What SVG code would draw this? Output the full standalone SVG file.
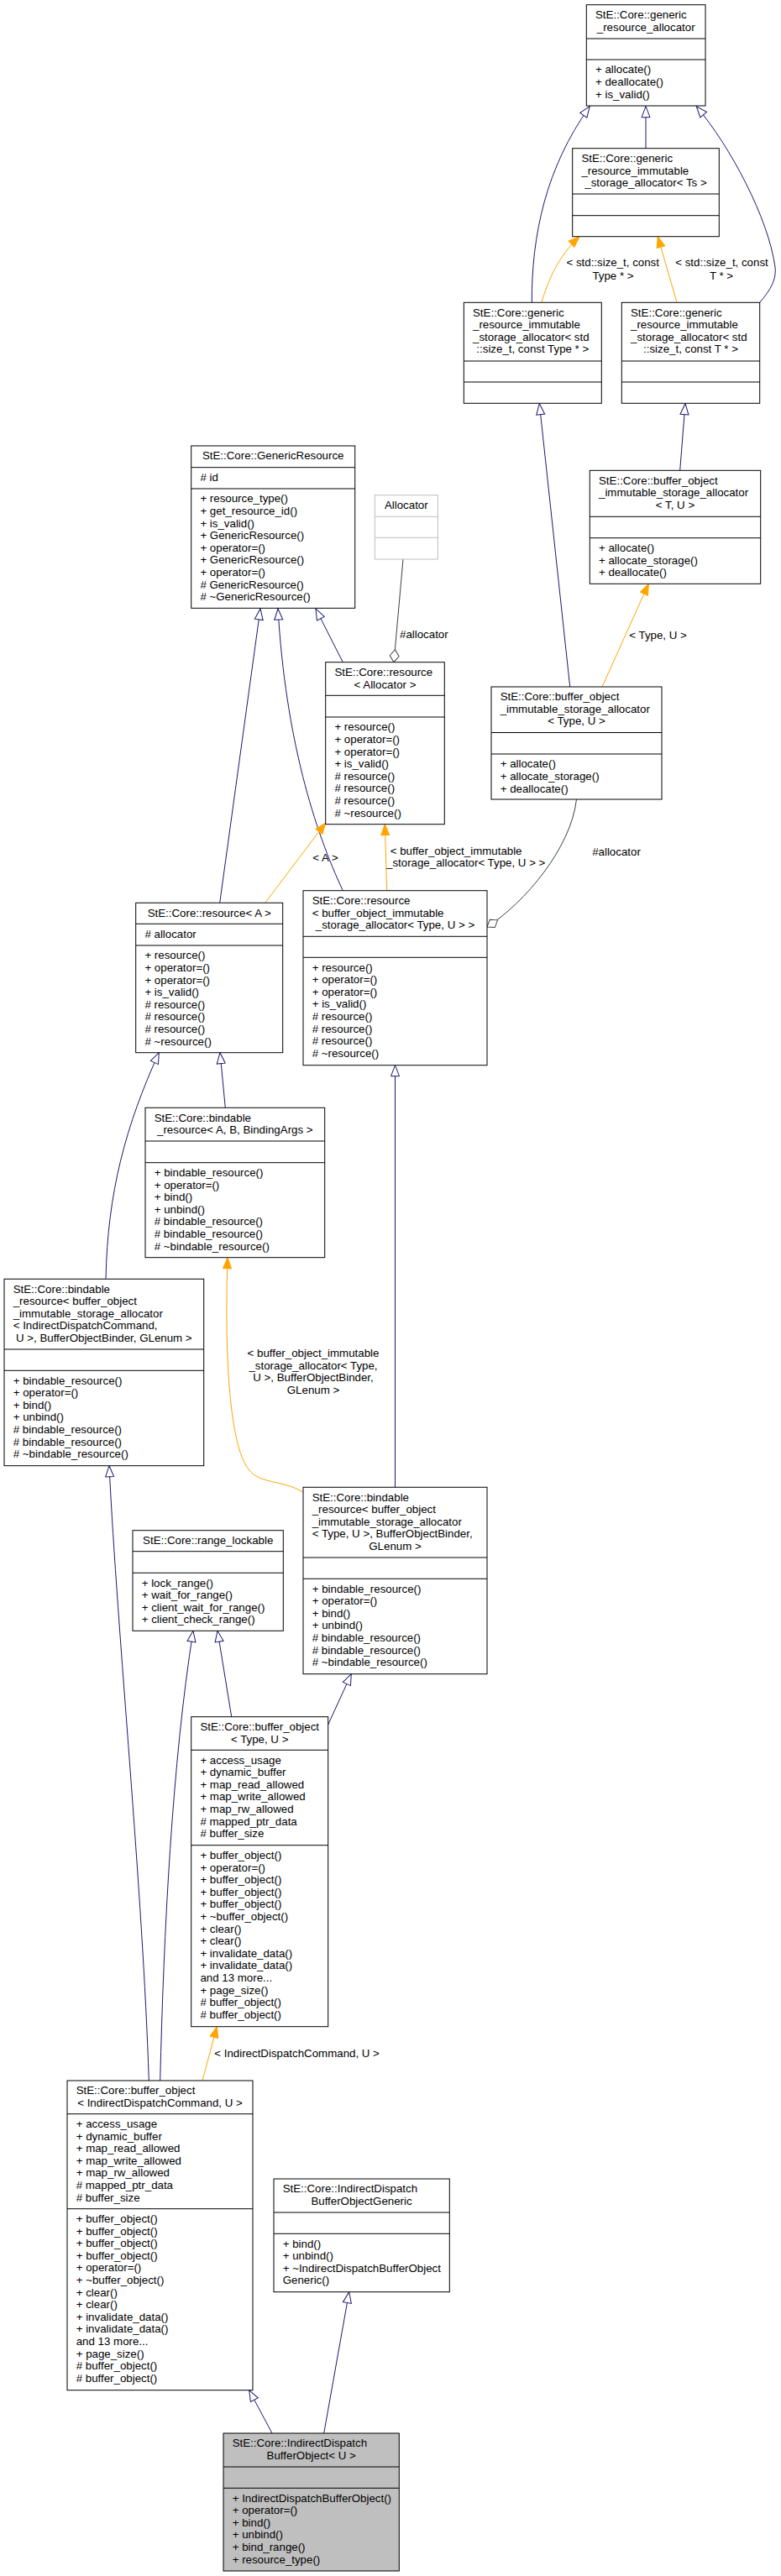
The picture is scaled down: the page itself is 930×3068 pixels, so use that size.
<svg xmlns="http://www.w3.org/2000/svg" width="930" height="3068" viewBox="0 0 930 3068">
<style>
.t{font-family:"Liberation Sans",Arial,sans-serif;font-size:13.3px;fill:#000}
.m{text-anchor:middle}
.box{fill:#fff;stroke:#000;stroke-width:1}
.cur{fill:#bfbfbf;stroke:#000;stroke-width:1}
.ext{fill:#fff;stroke:#bfbfbf;stroke-width:1}
.div{stroke:#000;stroke-width:1}
.dive{stroke:#bfbfbf;stroke-width:1}
.inh{fill:none;stroke:#191970;stroke-width:1;marker-end:url(#tri)}
.tpl{fill:none;stroke:#ffa500;stroke-width:1;marker-end:url(#ftri)}
.agg{fill:none;stroke:#404040;stroke-width:1;marker-end:url(#dia)}
</style>
<defs>
<marker id="tri" markerUnits="userSpaceOnUse" viewBox="-1 -1 16 12" refX="13" refY="5" markerWidth="16" markerHeight="12" orient="auto">
<path d="M0,0 L13,5 L0,10 z" fill="#fff" stroke="#191970" stroke-width="1"/>
</marker>
<marker id="ftri" markerUnits="userSpaceOnUse" viewBox="-1 -1 16 12" refX="13" refY="5" markerWidth="16" markerHeight="12" orient="auto">
<path d="M0,0 L13,5 L0,10 z" fill="#ffa500" stroke="#ffa500" stroke-width="1"/>
</marker>
<marker id="dia" markerUnits="userSpaceOnUse" viewBox="-1 -1 18 14" refX="15" refY="6" markerWidth="18" markerHeight="14" orient="auto">
<path d="M0,6 L7.5,0.5 L15,6 L7.5,11.5 z" fill="#fff" stroke="#404040" stroke-width="1"/>
</marker>
</defs>
<rect x="0" y="0" width="930" height="3068" fill="#fff"/>

<g id="edges">
<path class="inh" d="M633.3,360.3 C633,280 650,200 702.3,126.7"/>
<path class="inh" d="M769,176.7 L769,126.7"/>
<path class="inh" d="M904.7,360.3 C915,348 925,335 923,318 C915,260 870,175 829.3,126.7"/>
<path class="tpl" d="M645,360.3 C652,335 665,305 690,281.7"/>
<text class="t m" x="729.7" y="317.2">&lt; std::size_t, const</text>
<text class="t m" x="730" y="332.5">Type * &gt;</text>
<path class="tpl" d="M806,360.3 L783.3,281.7"/>
<text class="t m" x="859.5" y="317.2">&lt; std::size_t, const</text>
<text class="t m" x="859" y="332.5">T * &gt;</text>
<path class="inh" d="M678.7,818 L642.3,480.7"/>
<path class="inh" d="M809.7,560.3 L816,480.7"/>
<path class="tpl" d="M717,818 L772.3,695.3"/>
<text class="t" x="749.3" y="760.5">&lt; Type, U &gt;</text>
<path class="inh" d="M408.3,788.7 L376,725"/>
<path class="agg" d="M480,666 L469,788.7"/>
<text class="t" x="476" y="760.2">#allocator</text>
<path class="inh" d="M261.7,1075.3 L310,725"/>
<path class="inh" d="M408.3,1060.7 C375,990 340,880 331,725"/>
<path class="tpl" d="M315.7,1075.3 L387.7,980"/>
<text class="t m" x="387.5" y="1026">&lt; A &gt;</text>
<path class="tpl" d="M460.7,1060.7 L458.3,981.7"/>
<text class="t" x="464.7" y="1017.5">&lt; buffer_object_immutable</text>
<text class="t" x="460" y="1032.2">_storage_allocator&lt; Type, U &gt; &gt;</text>
<path class="agg" d="M686.5,952 C680,1010 625,1075 580,1104"/>
<text class="t m" x="734" y="1018.5">#allocator</text>
<path class="inh" d="M268.3,1319.3 L262,1253.7"/>
<path class="inh" d="M126,1523.3 C128,1420 150,1340 189.3,1253.7"/>
<path class="inh" d="M470.5,1771.3 L470.5,1268.7"/>
<path class="tpl" d="M361,1777 C335,1762 310,1768 296,1750 C274,1722 267,1620 271,1497.7"/>
<text class="t m" x="373" y="1616.2">&lt; buffer_object_immutable</text>
<text class="t m" x="373" y="1631.2">_storage_allocator&lt; Type,</text>
<text class="t m" x="373" y="1645.2">U &gt;, BufferObjectBinder,</text>
<text class="t m" x="373" y="1660.2">GLenum &gt;</text>
<path class="inh" d="M275.7,2044.7 L259,1942.3"/>
<path class="inh" d="M190.7,2478 C195,2300 205,2100 230,1942.3"/>
<path class="inh" d="M177.3,2478 C170,2250 140,1950 130,1745.7"/>
<path class="inh" d="M390.7,2054 L418.3,1993.7"/>
<path class="tpl" d="M241,2478 L258.3,2413.7"/>
<text class="t" x="255.3" y="2449.5">&lt; IndirectDispatchCommand, U &gt;</text>
<path class="inh" d="M324,2898 L296.7,2846.7"/>
<path class="inh" d="M385.7,2898 L415.7,2729.7"/>
</g>

<g id="generic_resource_allocator">
<rect class="box" x="698.3" y="5.7" width="141.7" height="120.3"/>
<line class="div" x1="698.3" y1="46" x2="840" y2="46"/>
<line class="div" x1="698.3" y1="71" x2="840" y2="71"/>
<text class="t" x="709" y="21.9">StE::Core::generic</text>
<text class="t m" x="769.2" y="36.5">_resource_allocator</text>
<text class="t" y="87.3"><tspan x="709">+ allocate()</tspan><tspan x="709" dy="14.6">+ deallocate()</tspan><tspan x="709" dy="14.6">+ is_valid()</tspan></text>
</g>

<g id="immutable_storage_allocator_Ts">
<rect class="box" x="681.7" y="176.7" width="174.6" height="105"/>
<line class="div" x1="681.7" y1="231" x2="856.3" y2="231"/>
<line class="div" x1="681.7" y1="256.7" x2="856.3" y2="256.7"/>
<text class="t" y="192.9"><tspan x="692.4">StE::Core::generic</tspan><tspan x="692.4" dy="14.6">_resource_immutable</tspan></text>
<text class="t m" x="769" y="222.1">_storage_allocator&lt; Ts &gt;</text>
</g>

<g id="immutable_storage_allocator_Type">
<rect class="box" x="552.3" y="360.3" width="164" height="120"/>
<line class="div" x1="552.3" y1="430" x2="716.3" y2="430"/>
<line class="div" x1="552.3" y1="455" x2="716.3" y2="455"/>
<text class="t" y="376.5"><tspan x="563">StE::Core::generic</tspan><tspan x="563" dy="14.6">_resource_immutable</tspan><tspan x="563" dy="14.6">_storage_allocator&lt; std</tspan></text>
<text class="t m" x="634.3" y="420.3">::size_t, const Type * &gt;</text>
</g>

<g id="immutable_storage_allocator_T">
<rect class="box" x="740.3" y="360.3" width="164.4" height="120"/>
<line class="div" x1="740.3" y1="430" x2="904.7" y2="430"/>
<line class="div" x1="740.3" y1="455" x2="904.7" y2="455"/>
<text class="t" y="376.5"><tspan x="751">StE::Core::generic</tspan><tspan x="751" dy="14.6">_resource_immutable</tspan><tspan x="751" dy="14.6">_storage_allocator&lt; std</tspan></text>
<text class="t m" x="822.5" y="420.3">::size_t, const T * &gt;</text>
</g>

<g id="bo_immutable_storage_allocator_TU">
<rect class="box" x="702.3" y="560.3" width="203.4" height="135"/>
<line class="div" x1="702.3" y1="615.3" x2="905.7" y2="615.3"/>
<line class="div" x1="702.3" y1="640.7" x2="905.7" y2="640.7"/>
<text class="t" y="576.5"><tspan x="713">StE::Core::buffer_object</tspan><tspan x="713" dy="14.6">_immutable_storage_allocator</tspan></text>
<text class="t m" x="804" y="605.7">&lt; T, U &gt;</text>
<text class="t" y="657"><tspan x="713">+ allocate()</tspan><tspan x="713" dy="14.6">+ allocate_storage()</tspan><tspan x="713" dy="14.6">+ deallocate()</tspan></text>
</g>

<g id="bo_immutable_storage_allocator_TypeU">
<rect class="box" x="585" y="818" width="203" height="134"/>
<line class="div" x1="585" y1="872.5" x2="788" y2="872.5"/>
<line class="div" x1="585" y1="898" x2="788" y2="898"/>
<text class="t" y="834.2"><tspan x="595.7">StE::Core::buffer_object</tspan><tspan x="595.7" dy="14.6">_immutable_storage_allocator</tspan></text>
<text class="t m" x="686.5" y="863.4">&lt; Type, U &gt;</text>
<text class="t" y="914.3"><tspan x="595.7">+ allocate()</tspan><tspan x="595.7" dy="14.6">+ allocate_storage()</tspan><tspan x="595.7" dy="14.6">+ deallocate()</tspan></text>
</g>

<g id="GenericResource">
<rect class="box" x="227.7" y="531" width="195" height="193.3"/>
<line class="div" x1="227.7" y1="556.7" x2="422.7" y2="556.7"/>
<line class="div" x1="227.7" y1="582" x2="422.7" y2="582"/>
<text class="t m" x="325.2" y="547.2">StE::Core::GenericResource</text>
<text class="t" x="238.4" y="573">#  id</text>
<text class="t" y="598.3"><tspan x="238.4">+ resource_type()</tspan><tspan x="238.4" dy="14.6">+ get_resource_id()</tspan><tspan x="238.4" dy="14.6">+ is_valid()</tspan><tspan x="238.4" dy="14.6">+ GenericResource()</tspan><tspan x="238.4" dy="14.6">+ operator=()</tspan><tspan x="238.4" dy="14.6">+ GenericResource()</tspan><tspan x="238.4" dy="14.6">+ operator=()</tspan><tspan x="238.4" dy="14.6"># GenericResource()</tspan><tspan x="238.4" dy="14.6"># ~GenericResource()</tspan></text>
</g>

<g id="Allocator">
<rect class="ext" x="446.3" y="589.7" width="75" height="76.3"/>
<line class="dive" x1="446.3" y1="615.3" x2="521.3" y2="615.3"/>
<line class="dive" x1="446.3" y1="640.3" x2="521.3" y2="640.3"/>
<text class="t m" x="483.8" y="605.9">Allocator</text>
</g>

<g id="resource_Allocator">
<rect class="box" x="387.7" y="788.7" width="141.6" height="193"/>
<line class="div" x1="387.7" y1="828.3" x2="529.3" y2="828.3"/>
<line class="div" x1="387.7" y1="854" x2="529.3" y2="854"/>
<text class="t" x="398.4" y="804.9">StE::Core::resource</text>
<text class="t m" x="458.5" y="819.5">&lt; Allocator &gt;</text>
<text class="t" y="870.3"><tspan x="398.4">+ resource()</tspan><tspan x="398.4" dy="14.6">+ operator=()</tspan><tspan x="398.4" dy="14.6">+ operator=()</tspan><tspan x="398.4" dy="14.6">+ is_valid()</tspan><tspan x="398.4" dy="14.6"># resource()</tspan><tspan x="398.4" dy="14.6"># resource()</tspan><tspan x="398.4" dy="14.6"># resource()</tspan><tspan x="398.4" dy="14.6"># ~resource()</tspan></text>
</g>

<g id="resource_A">
<rect class="box" x="161.7" y="1075.3" width="175" height="178.4"/>
<line class="div" x1="161.7" y1="1100.3" x2="336.7" y2="1100.3"/>
<line class="div" x1="161.7" y1="1126" x2="336.7" y2="1126"/>
<text class="t m" x="249.2" y="1091.5">StE::Core::resource&lt; A &gt;</text>
<text class="t" x="172.4" y="1116.6"># allocator</text>
<text class="t" y="1142.3"><tspan x="172.4">+ resource()</tspan><tspan x="172.4" dy="14.6">+ operator=()</tspan><tspan x="172.4" dy="14.6">+ operator=()</tspan><tspan x="172.4" dy="14.6">+ is_valid()</tspan><tspan x="172.4" dy="14.6"># resource()</tspan><tspan x="172.4" dy="14.6"># resource()</tspan><tspan x="172.4" dy="14.6"># resource()</tspan><tspan x="172.4" dy="14.6"># ~resource()</tspan></text>
</g>

<g id="resource_bo_alloc">
<rect class="box" x="361" y="1060.7" width="219" height="208"/>
<line class="div" x1="361" y1="1115.3" x2="580" y2="1115.3"/>
<line class="div" x1="361" y1="1140.3" x2="580" y2="1140.3"/>
<text class="t" y="1076.9"><tspan x="371.7">StE::Core::resource</tspan><tspan x="371.7" dy="14.6">&lt; buffer_object_immutable</tspan></text>
<text class="t m" x="470.5" y="1106.1">_storage_allocator&lt; Type, U &gt; &gt;</text>
<text class="t" y="1156.6"><tspan x="371.7">+ resource()</tspan><tspan x="371.7" dy="14.6">+ operator=()</tspan><tspan x="371.7" dy="14.6">+ operator=()</tspan><tspan x="371.7" dy="14.6">+ is_valid()</tspan><tspan x="371.7" dy="14.6"># resource()</tspan><tspan x="371.7" dy="14.6"># resource()</tspan><tspan x="371.7" dy="14.6"># resource()</tspan><tspan x="371.7" dy="14.6"># ~resource()</tspan></text>
</g>

<g id="bindable_resource_ABArgs">
<rect class="box" x="173" y="1319.3" width="213.7" height="178.4"/>
<line class="div" x1="173" y1="1359" x2="386.7" y2="1359"/>
<line class="div" x1="173" y1="1384.7" x2="386.7" y2="1384.7"/>
<text class="t" x="183.7" y="1335.5">StE::Core::bindable</text>
<text class="t m" x="279.8" y="1350.1">_resource&lt; A, B, BindingArgs &gt;</text>
<text class="t" y="1401"><tspan x="183.7">+ bindable_resource()</tspan><tspan x="183.7" dy="14.6">+ operator=()</tspan><tspan x="183.7" dy="14.6">+ bind()</tspan><tspan x="183.7" dy="14.6">+ unbind()</tspan><tspan x="183.7" dy="14.6"># bindable_resource()</tspan><tspan x="183.7" dy="14.6"># bindable_resource()</tspan><tspan x="183.7" dy="14.6"># ~bindable_resource()</tspan></text>
</g>

<g id="bindable_resource_IDC">
<rect class="box" x="5" y="1523.3" width="237.7" height="222.4"/>
<line class="div" x1="5" y1="1607" x2="242.7" y2="1607"/>
<line class="div" x1="5" y1="1632.3" x2="242.7" y2="1632.3"/>
<text class="t" y="1539.5"><tspan x="15.7">StE::Core::bindable</tspan><tspan x="15.7" dy="14.6">_resource&lt; buffer_object</tspan><tspan x="15.7" dy="14.6">_immutable_storage_allocator</tspan><tspan x="15.7" dy="14.6">&lt; IndirectDispatchCommand,</tspan></text>
<text class="t m" x="123.8" y="1597.9">U &gt;, BufferObjectBinder, GLenum &gt;</text>
<text class="t" y="1648.6"><tspan x="15.7">+ bindable_resource()</tspan><tspan x="15.7" dy="14.6">+ operator=()</tspan><tspan x="15.7" dy="14.6">+ bind()</tspan><tspan x="15.7" dy="14.6">+ unbind()</tspan><tspan x="15.7" dy="14.6"># bindable_resource()</tspan><tspan x="15.7" dy="14.6"># bindable_resource()</tspan><tspan x="15.7" dy="14.6"># ~bindable_resource()</tspan></text>
</g>

<g id="bindable_resource_TypeU">
<rect class="box" x="361" y="1771.3" width="219" height="222.4"/>
<line class="div" x1="361" y1="1855" x2="580" y2="1855"/>
<line class="div" x1="361" y1="1880.3" x2="580" y2="1880.3"/>
<text class="t" y="1787.5"><tspan x="371.7">StE::Core::bindable</tspan><tspan x="371.7" dy="14.6">_resource&lt; buffer_object</tspan><tspan x="371.7" dy="14.6">_immutable_storage_allocator</tspan><tspan x="371.7" dy="14.6">&lt; Type, U &gt;, BufferObjectBinder,</tspan></text>
<text class="t m" x="470.5" y="1845.9">GLenum &gt;</text>
<text class="t" y="1896.6"><tspan x="371.7">+ bindable_resource()</tspan><tspan x="371.7" dy="14.6">+ operator=()</tspan><tspan x="371.7" dy="14.6">+ bind()</tspan><tspan x="371.7" dy="14.6">+ unbind()</tspan><tspan x="371.7" dy="14.6"># bindable_resource()</tspan><tspan x="371.7" dy="14.6"># bindable_resource()</tspan><tspan x="371.7" dy="14.6"># ~bindable_resource()</tspan></text>
</g>

<g id="range_lockable">
<rect class="box" x="158" y="1822.7" width="179.3" height="119.6"/>
<line class="div" x1="158" y1="1847.7" x2="337.3" y2="1847.7"/>
<line class="div" x1="158" y1="1873.3" x2="337.3" y2="1873.3"/>
<text class="t m" x="247.7" y="1838.9">StE::Core::range_lockable</text>
<text class="t" y="1889.6"><tspan x="168.7">+ lock_range()</tspan><tspan x="168.7" dy="14.6">+ wait_for_range()</tspan><tspan x="168.7" dy="14.6">+ client_wait_for_range()</tspan><tspan x="168.7" dy="14.6">+ client_check_range()</tspan></text>
</g>

<g id="buffer_object_TypeU">
<rect class="box" x="227.7" y="2044.7" width="163" height="369"/>
<line class="div" x1="227.7" y1="2084.3" x2="390.7" y2="2084.3"/>
<line class="div" x1="227.7" y1="2197.7" x2="390.7" y2="2197.7"/>
<text class="t" x="238.4" y="2060.9">StE::Core::buffer_object</text>
<text class="t m" x="309.2" y="2075.5">&lt; Type, U &gt;</text>
<text class="t" y="2100.6"><tspan x="238.4">+ access_usage</tspan><tspan x="238.4" dy="14.6">+ dynamic_buffer</tspan><tspan x="238.4" dy="14.6">+ map_read_allowed</tspan><tspan x="238.4" dy="14.6">+ map_write_allowed</tspan><tspan x="238.4" dy="14.6">+ map_rw_allowed</tspan><tspan x="238.4" dy="14.6"># mapped_ptr_data</tspan><tspan x="238.4" dy="14.6"># buffer_size</tspan></text>
<text class="t" y="2214"><tspan x="238.4">+ buffer_object()</tspan><tspan x="238.4" dy="14.6">+ operator=()</tspan><tspan x="238.4" dy="14.6">+ buffer_object()</tspan><tspan x="238.4" dy="14.6">+ buffer_object()</tspan><tspan x="238.4" dy="14.6">+ buffer_object()</tspan><tspan x="238.4" dy="14.6">+ ~buffer_object()</tspan><tspan x="238.4" dy="14.6">+ clear()</tspan><tspan x="238.4" dy="14.6">+ clear()</tspan><tspan x="238.4" dy="14.6">+ invalidate_data()</tspan><tspan x="238.4" dy="14.6">+ invalidate_data()</tspan><tspan x="238.4" dy="14.6">and 13 more...</tspan><tspan x="238.4" dy="14.6">+ page_size()</tspan><tspan x="238.4" dy="14.6"># buffer_object()</tspan><tspan x="238.4" dy="14.6"># buffer_object()</tspan></text>
</g>

<g id="buffer_object_IDC">
<rect class="box" x="80" y="2478" width="221" height="368.7"/>
<line class="div" x1="80" y1="2517.7" x2="301" y2="2517.7"/>
<line class="div" x1="80" y1="2630.7" x2="301" y2="2630.7"/>
<text class="t" x="90.7" y="2494.2">StE::Core::buffer_object</text>
<text class="t m" x="190.5" y="2508.8">&lt; IndirectDispatchCommand, U &gt;</text>
<text class="t" y="2534"><tspan x="90.7">+ access_usage</tspan><tspan x="90.7" dy="14.6">+ dynamic_buffer</tspan><tspan x="90.7" dy="14.6">+ map_read_allowed</tspan><tspan x="90.7" dy="14.6">+ map_write_allowed</tspan><tspan x="90.7" dy="14.6">+ map_rw_allowed</tspan><tspan x="90.7" dy="14.6"># mapped_ptr_data</tspan><tspan x="90.7" dy="14.6"># buffer_size</tspan></text>
<text class="t" y="2647"><tspan x="90.7">+ buffer_object()</tspan><tspan x="90.7" dy="14.6">+ buffer_object()</tspan><tspan x="90.7" dy="14.6">+ buffer_object()</tspan><tspan x="90.7" dy="14.6">+ buffer_object()</tspan><tspan x="90.7" dy="14.6">+ operator=()</tspan><tspan x="90.7" dy="14.6">+ ~buffer_object()</tspan><tspan x="90.7" dy="14.6">+ clear()</tspan><tspan x="90.7" dy="14.6">+ clear()</tspan><tspan x="90.7" dy="14.6">+ invalidate_data()</tspan><tspan x="90.7" dy="14.6">+ invalidate_data()</tspan><tspan x="90.7" dy="14.6">and 13 more...</tspan><tspan x="90.7" dy="14.6">+ page_size()</tspan><tspan x="90.7" dy="14.6"># buffer_object()</tspan><tspan x="90.7" dy="14.6"># buffer_object()</tspan></text>
</g>

<g id="IndirectDispatchBufferObjectGeneric">
<rect class="box" x="326" y="2595" width="209.3" height="134.7"/>
<line class="div" x1="326" y1="2635" x2="535.3" y2="2635"/>
<line class="div" x1="326" y1="2660.3" x2="535.3" y2="2660.3"/>
<text class="t" x="336.7" y="2611.2">StE::Core::IndirectDispatch</text>
<text class="t m" x="430.5" y="2625.8">BufferObjectGeneric</text>
<text class="t" y="2676.6"><tspan x="336.7">+ bind()</tspan><tspan x="336.7" dy="14.6">+ unbind()</tspan><tspan x="336.7" dy="14.6">+ ~IndirectDispatchBufferObject</tspan><tspan x="336.7" dy="14.6">Generic()</tspan></text>
</g>

<g id="IndirectDispatchBufferObject">
<rect class="cur" x="266" y="2898" width="209.3" height="164"/>
<line class="div" x1="266" y1="2938" x2="475.3" y2="2938"/>
<line class="div" x1="266" y1="2963.3" x2="475.3" y2="2963.3"/>
<text class="t" x="276.7" y="2914.2">StE::Core::IndirectDispatch</text>
<text class="t m" x="370.7" y="2928.8">BufferObject&lt; U &gt;</text>
<text class="t" y="2979.6"><tspan x="276.7">+ IndirectDispatchBufferObject()</tspan><tspan x="276.7" dy="14.6">+ operator=()</tspan><tspan x="276.7" dy="14.6">+ bind()</tspan><tspan x="276.7" dy="14.6">+ unbind()</tspan><tspan x="276.7" dy="14.6">+ bind_range()</tspan><tspan x="276.7" dy="14.6">+ resource_type()</tspan></text>
</g>
</svg>
